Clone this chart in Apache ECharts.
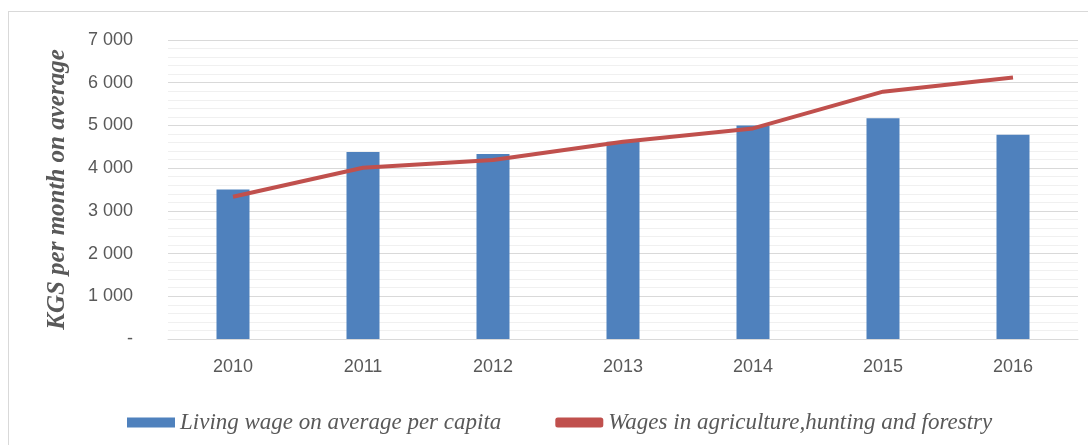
<!DOCTYPE html>
<html>
<head>
<meta charset="utf-8">
<script src="https://cdn.jsdelivr.net/npm/echarts@6/dist/echarts.min.js"></script>
<style>
  html, body { margin: 0; padding: 0; background: #fff; overflow: hidden; }
  #frame { position: absolute; left: 8px; top: 11px; width: 1100px; height: 440px; border: 1px solid #d9d9d9; box-sizing: border-box; }
  #chart { position: absolute; left: 0; top: 0; width: 1088px; height: 445px; }
</style>
</head>
<body>
<div id="frame"></div>
<div id="chart"></div>
<script>
  // values
  var years = ['2010', '2011', '2012', '2013', '2014', '2015', '2016'];
  var livingWage = [3500, 4380, 4330, 4620, 5000, 5170, 4780];
  var agriWages = [3330, 4010, 4190, 4620, 4930, 5790, 6120];

  var myChart = echarts.init(document.getElementById('chart'));

  var option = {
    animation: false,
    grid: { left: 168, right: 10, top: 40, bottom: 106 },
    legend: {
      left: 122,
      top: 406,
      itemWidth: 48,
      itemHeight: 10,
      itemGap: 54,
      textStyle: {
        fontFamily: 'Liberation Serif',
        fontStyle: 'italic',
        fontSize: 23,
        color: '#595959'
      },
      data: [
        { name: 'Living wage on average per capita', icon: 'rect' },
        { name: 'Wages in agriculture,hunting and forestry', icon: 'roundRect', itemStyle: { color: '#c0504d' } }
      ]
    },
    xAxis: {
      type: 'category',
      data: years,
      axisLine: { lineStyle: { color: '#d9d9d9' } },
      axisTick: { show: false },
      axisLabel: { color: '#595959', fontSize: 18, fontFamily: 'Liberation Sans', margin: 19 }
    },
    yAxis: {
      type: 'value',
      min: 0,
      max: 7000,
      interval: 1000,
      name: 'KGS per month on average',
      nameLocation: 'middle',
      nameGap: 98,
      nameTextStyle: {
        fontFamily: 'Liberation Serif',
        fontStyle: 'italic',
        fontWeight: 'bold',
        fontSize: 25,
        color: '#595959'
      },
      axisLine: { show: false },
      axisTick: { show: false },
      axisLabel: {
        color: '#595959',
        fontSize: 18,
        fontFamily: 'Liberation Sans',
        margin: 35,
        formatter: function (v) {
          if (v === 0) return '-';
          return (v / 1000) + ' 000';
        }
      },
      splitLine: { lineStyle: { color: '#d9d9d9', width: 1 } },
      minorTick: { show: false, splitNumber: 5 },
      minorSplitLine: { show: true, lineStyle: { color: '#f0f0f0', width: 1 } }
    },
    series: [
      {
        name: 'Living wage on average per capita',
        type: 'bar',
        barWidth: 33,
        itemStyle: { color: '#4f81bd' },
        data: livingWage
      },
      {
        name: 'Wages in agriculture,hunting and forestry',
        type: 'line',
        symbol: 'none',
        lineStyle: { color: '#c0504d', width: 4 },
        itemStyle: { color: '#c0504d' },
        data: agriWages
      }
    ]
  };

  myChart.setOption(option);
</script>
</body>
</html>
